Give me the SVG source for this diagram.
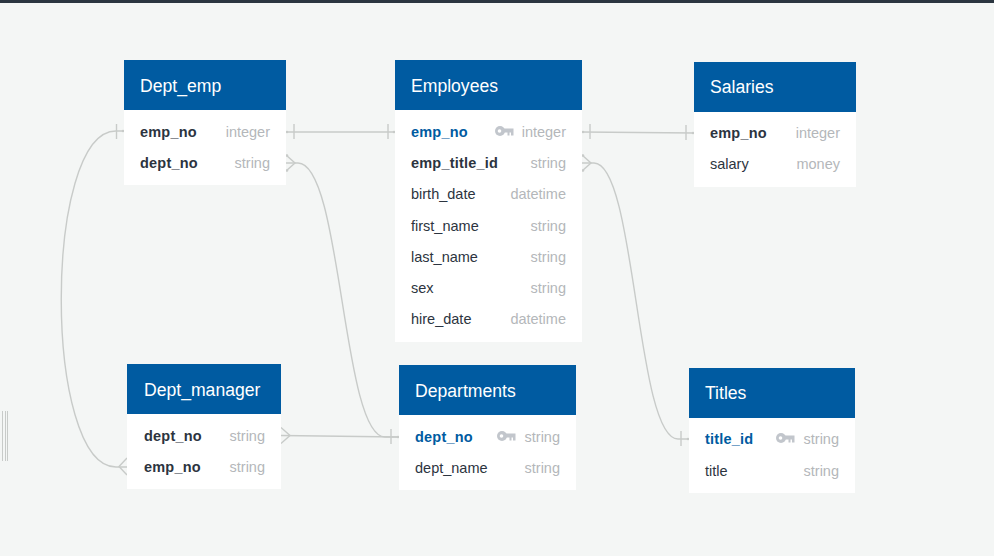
<svg xmlns="http://www.w3.org/2000/svg" width="994" height="556" viewBox="0 0 994 556">
<defs>
<style>
text{font-family:"Liberation Sans",Arial,sans-serif;font-size:14.5px;fill:#2c3440}
.h{fill:#005ba1}.b{fill:#fff}
.t{font-size:17.6px;fill:#fff}
.k{font-weight:bold;letter-spacing:.2px}
.p{font-weight:bold;fill:#005ba1;letter-spacing:.2px}
.y{fill:#b4b7ba;text-anchor:end}
.c{fill:none;stroke:#c8cbc9;stroke-width:1.4}
.d{fill:#c8cbc9}
.i{fill:#c2c6cc}
</style>
<g id="key"><circle cx="6" cy="0" r="5" class="i"/><path d="M9 -2.500H19.500V4.500H17V1.500H15.500V4.500H13.500V1.500H9Z" class="i"/><circle cx="5.500" cy="0" r="1.800" fill="#fff"/></g>
</defs>
<rect width="994" height="556" fill="#f4f6f5"/>
<rect width="994" height="3" fill="#2b3640"/>
<g id="handle" fill="#c8cbc9"><rect x="2" y="411" width="1" height="50"/><rect x="5" y="411" width="1" height="50"/><rect x="7" y="411" width="1" height="50"/></g>
<g id="connectors">
<path class="c" d="M286 132H395"/><path class="c" d="M294 124V139M388 124V139"/>
<path class="c" d="M124 131H116C43 131 43 467 116 467H127"/><path class="c" d="M116.500 124V139M127 458L119 466.500L127 475"/>
<path class="c" d="M286 163H298C342 163 342 437 385 437H399"/><path class="c" d="M286 155L295 163L286 171M391 429V444"/>
<path class="c" d="M281 435.500L399 437"/><path class="c" d="M281 427.500L290 435.500L281 443.500"/>
<path class="c" d="M582 132L694 133"/><path class="c" d="M590 124V139M686 125V140"/>
<path class="c" d="M582 163H594C636 163 636 439 678 439H689"/><path class="c" d="M582 155L591 163L582 171M681 431V446"/>
<g class="d"><circle cx="287" cy="132" r="1.300"/><circle cx="394" cy="132" r="1.300"/><circle cx="123" cy="131" r="1.300"/><circle cx="287" cy="155.500" r="1.300"/><circle cx="287" cy="170.500" r="1.300"/><circle cx="583" cy="132" r="1.300"/><circle cx="693" cy="133" r="1.300"/><circle cx="583" cy="155.500" r="1.300"/><circle cx="583" cy="170.500" r="1.300"/><circle cx="398" cy="437" r="1.300"/><circle cx="688" cy="439" r="1.300"/></g>
</g>
<g id="dept_emp"><rect x="124" y="60" width="162" height="125" class="b"/><rect x="124" y="60" width="162" height="50" class="h"/><text x="140" y="92" class="t">Dept_emp</text><text x="140" y="137" class="k">emp_no</text><text x="270" y="137" class="y">integer</text><text x="140" y="168" class="k">dept_no</text><text x="270" y="168" class="y">string</text></g>
<g id="employees"><rect x="395" y="60" width="187" height="282" class="b"/><rect x="395" y="60" width="187" height="50" class="h"/><text x="411" y="92" class="t">Employees</text><text x="411" y="137" class="p">emp_no</text><use href="#key" x="494" y="131"/><text x="566" y="137" class="y">integer</text><text x="411" y="168" class="k">emp_title_id</text><text x="566" y="168" class="y">string</text><text x="411" y="199">birth_date</text><text x="566" y="199" class="y">datetime</text><text x="411" y="231">first_name</text><text x="566" y="231" class="y">string</text><text x="411" y="262">last_name</text><text x="566" y="262" class="y">string</text><text x="411" y="293">sex</text><text x="566" y="293" class="y">string</text><text x="411" y="324">hire_date</text><text x="566" y="324" class="y">datetime</text></g>
<g id="salaries"><rect x="694" y="62" width="162" height="125" class="b"/><rect x="694" y="62" width="162" height="50" class="h"/><text x="710" y="93" class="t">Salaries</text><text x="710" y="138" class="k">emp_no</text><text x="840" y="138" class="y">integer</text><text x="710" y="169">salary</text><text x="840" y="169" class="y">money</text></g>
<g id="dept_manager"><rect x="127" y="364" width="154" height="125" class="b"/><rect x="127" y="364" width="154" height="50" class="h"/><text x="144" y="396" class="t">Dept_manager</text><text x="144" y="441" class="k">dept_no</text><text x="265" y="441" class="y">string</text><text x="144" y="472" class="k">emp_no</text><text x="265" y="472" class="y">string</text></g>
<g id="departments"><rect x="399" y="365" width="177" height="125" class="b"/><rect x="399" y="365" width="177" height="50" class="h"/><text x="415" y="397" class="t">Departments</text><text x="415" y="442" class="p">dept_no</text><use href="#key" x="496" y="436"/><text x="560" y="442" class="y">string</text><text x="415" y="473">dept_name</text><text x="560" y="473" class="y">string</text></g>
<g id="titles"><rect x="689" y="368" width="166" height="125" class="b"/><rect x="689" y="368" width="166" height="50" class="h"/><text x="705" y="399" class="t">Titles</text><text x="705" y="444" class="p">title_id</text><use href="#key" x="775" y="438"/><text x="839" y="444" class="y">string</text><text x="705" y="476">title</text><text x="839" y="476" class="y">string</text></g>
</svg>
